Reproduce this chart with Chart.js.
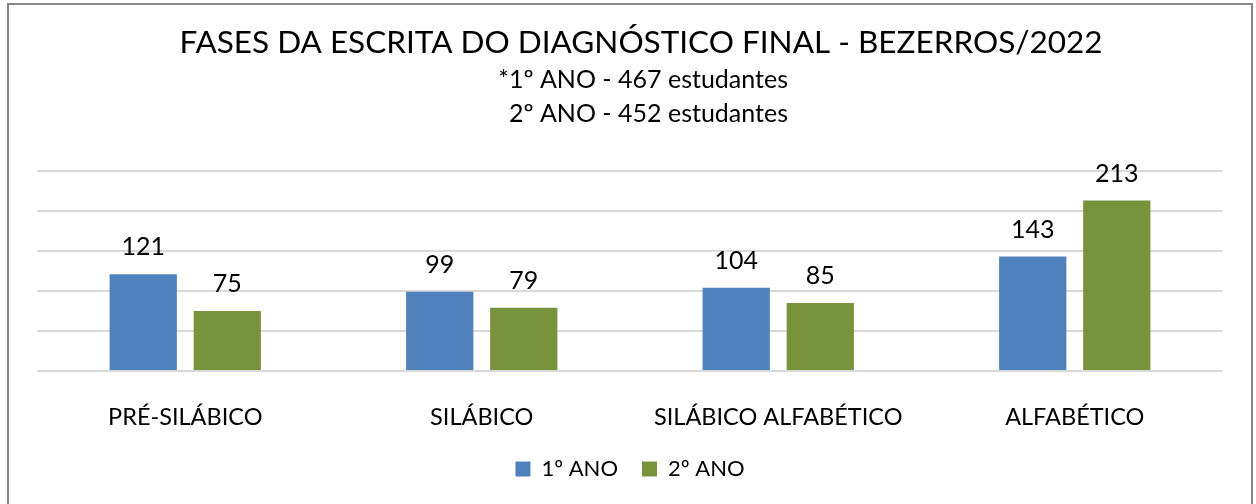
<!DOCTYPE html>
<html>
<head>
<meta charset="utf-8">
<script src="https://cdn.jsdelivr.net/npm/chart.js@4/dist/chart.umd.min.js"></script>
<style>
  html, body { margin: 0; padding: 0; background: #fff; }
  #wrap { position: relative; width: 1256px; height: 504px; }
</style>
</head>
<body>
<div id="wrap"><canvas id="c" width="1256" height="504"></canvas></div>
<script>
const titleText = 'FASES DA ESCRITA DO DIAGNÓSTICO FINAL - BEZERROS/2022';
const subtitleLines = ['*1º ANO - 467 estudantes', ' 2º ANO - 452 estudantes'];
const categories = ['PRÉ-SILÁBICO', 'SILÁBICO', 'SILÁBICO ALFABÉTICO', 'ALFABÉTICO'];
const seriesNames = ['1º ANO', '2º ANO'];
const ano1 = [121, 99, 104, 143];
const ano2 = [75, 79, 85, 213];

const FONT = 'Lato, "Open Sans", sans-serif';

const frameAndTitle = {
  id: 'frameAndTitle',
  beforeDraw(chart) {
    const ctx = chart.ctx;
    ctx.save();
    ctx.fillStyle = '#fff';
    ctx.fillRect(0, 0, chart.width, chart.height);
    ctx.strokeStyle = '#878787';
    ctx.lineWidth = 2;
    ctx.strokeRect(8, 4, 1244, 520);
    ctx.restore();
  },
  afterDraw(chart) {
    const ctx = chart.ctx;
    ctx.save();
    ctx.fillStyle = '#000';
    ctx.textBaseline = 'alphabetic';
    ctx.textAlign = 'center';
    ctx.font = '31.5px ' + FONT;
    ctx.fillText(titleText, 641, 53);
    ctx.font = '25px ' + FONT;
    ctx.textAlign = 'right';
    ctx.fillText(subtitleLines[0], 788, 88);
    ctx.fillText(subtitleLines[1], 788, 122);
    ctx.restore();
  }
};

const valueLabels = {
  id: 'valueLabels',
  afterDatasetsDraw(chart) {
    const ctx = chart.ctx;
    ctx.save();
    ctx.fillStyle = '#000';
    ctx.font = '25px ' + FONT;
    ctx.textAlign = 'center';
    ctx.textBaseline = 'alphabetic';
    chart.data.datasets.forEach((ds, di) => {
      chart.getDatasetMeta(di).data.forEach((bar, i) => {
        ctx.fillText(String(ds.data[i]), bar.x, bar.y - 19);
      });
    });
    ctx.restore();
  }
};

new Chart(document.getElementById('c'), {
  type: 'bar',
  data: {
    labels: categories,
    datasets: [
      { label: seriesNames[0], data: ano1, backgroundColor: '#4F81BD', borderWidth: 0 },
      { label: seriesNames[1], data: ano2, backgroundColor: '#77933C', borderWidth: 0 }
    ]
  },
  options: {
    responsive: false,
    animation: false,
    devicePixelRatio: 1,
    layout: { padding: { left: 37, right: 33, top: 171, bottom: 14 } },
    datasets: { bar: { categoryPercentage: 0.567, barPercentage: 0.8 } },
    scales: {
      x: {
        grid: { display: false },
        border: { display: false },
        ticks: { color: '#000', font: { family: FONT, size: 23.5 }, padding: 24 },
        afterFit(s) { s.height = 63; }
      },
      y: {
        min: 0, max: 250,
        ticks: { display: false, stepSize: 50 },
        grid: { color: '#D9D9D9', lineWidth: 2, drawTicks: false },
        border: { display: false },
        afterFit(s) { s.width = 0; }
      }
    },
    plugins: {
      title: { display: false },
      tooltip: { enabled: false },
      legend: {
        position: 'bottom',
        labels: {
          color: '#000',
          font: { family: FONT, size: 22 },
          boxWidth: 15, boxHeight: 15,
          padding: 24
        }
      }
    }
  },
  plugins: [frameAndTitle, valueLabels]
});
</script>
</body>
</html>
